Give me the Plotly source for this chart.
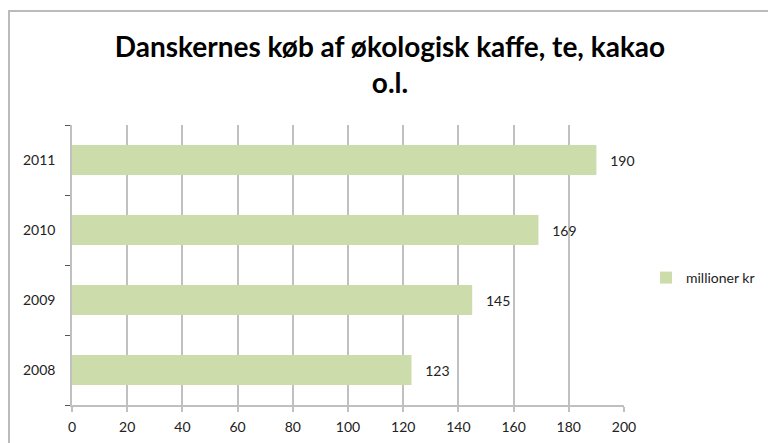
import plotly.graph_objects as go

years = ["2008", "2009", "2010", "2011"]
values = [123, 145, 169, 190]
series_name = "millioner kr"
title_text = "Danskernes køb af økologisk kaffe, te, kakao<br>o.l."
x_ticks = [0, 20, 40, 60, 80, 100, 120, 140, 160, 180, 200]

# the page body adds an 8px margin; work in screenshot coordinates and shift
OFF = 8
W, H = 776 - OFF, 443 - OFF
# plot area in screenshot coordinates
X0, X1, Y0, Y1 = 72, 624, 125, 405
L, R, T, B = X0 - OFF, W - (X1 - OFF), Y0 - OFF, H - (Y1 - OFF)
pw, ph = X1 - X0, Y1 - Y0

def px_x(p):
    return (p - X0) / pw

def px_y(p):
    return (Y1 - p) / ph

FONT = "Lato, Calibri, sans-serif"
GRID = "#c0c0c0"

fig = go.Figure()
fig.add_trace(go.Bar(
    y=years, x=values, orientation="h", name=series_name,
    marker=dict(color="#cddcab", line=dict(width=0)),
    text=values, texttemplate="   %{x}", textposition="outside",
    cliponaxis=False,
    textfont=dict(family=FONT, size=14, color="#222222"),
))

fig.update_layout(
    width=W, height=H,
    margin=dict(l=L, r=R, t=T, b=B, pad=0, autoexpand=False),
    paper_bgcolor="white", plot_bgcolor="white",
    bargap=0.57,
    title=dict(text=title_text, x=(390 - OFF) / W, xref="container", xanchor="center",
               y=1 - 49 / H, yref="container", yanchor="middle",
               font=dict(family=FONT, size=28, color="#000000", weight="bold")),
    font=dict(family=FONT, size=14, color="#222222"),
    showlegend=True,
    legend=dict(x=px_x(646), y=px_y(278), xanchor="left", yanchor="middle",
                font=dict(family=FONT, size=14, color="#222222"),
                itemwidth=30, bgcolor="rgba(0,0,0,0)"),
    xaxis=dict(range=[0, 200], tickvals=x_ticks, showgrid=True, gridcolor=GRID,
               gridwidth=1.5, zeroline=False, showline=True, linecolor=GRID,
               linewidth=1.5, ticks="outside", ticklen=5, tickcolor=GRID,
               tickwidth=1.5, fixedrange=True, ticklabelstandoff=3,
               automargin=False,
               tickfont=dict(family=FONT, size=14, color="#222222")),
    yaxis=dict(type="category", categoryorder="array", categoryarray=years,
               showgrid=False, zeroline=False, showline=True, linecolor=GRID,
               linewidth=1.5, ticks="outside", ticklen=5, tickcolor="#555555",
               tickwidth=1, tickson="boundaries", ticklabelstandoff=12,
               automargin=False,
               tickfont=dict(family=FONT, size=14, color="#222222")),
    shapes=[dict(type="rect", xref="paper", yref="paper",
                 x0=px_x(9), x1=px_x(800), y0=px_y(460), y1=px_y(11),
                 line=dict(color="#bbbbbb", width=2), fillcolor="rgba(0,0,0,0)",
                 layer="below")],
)

fig.write_html("out.html")
